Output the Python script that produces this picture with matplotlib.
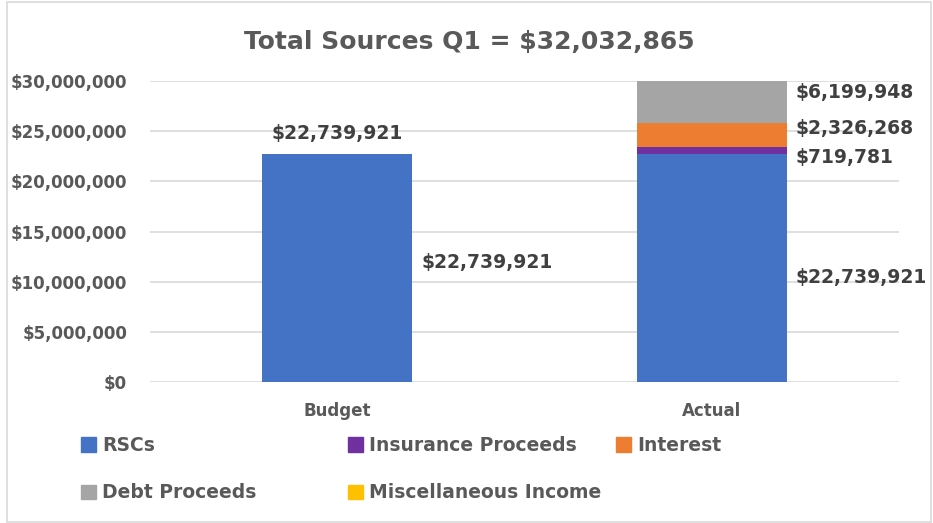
import numpy as np
import matplotlib.pyplot as plt
from matplotlib.patches import Rectangle, Patch

# ---- Data ----
categories = ['Budget', 'Actual']
series_names = ['RSCs', 'Insurance Proceeds', 'Interest', 'Debt Proceeds', 'Miscellaneous Income']
rscs = [22739921, 22739921]
insurance = [0, 719781]
interest = [0, 2326268]
debt = [0, 6199948]
misc = [0, 46947]
title = 'Total Sources Q1 = $32,032,865'
yticks = [0, 5e6, 10e6, 15e6, 20e6, 25e6, 30e6]

colors = ['#4472C4', '#7030A0', '#ED7D31', '#A5A5A5', '#FFC000']
text_col = '#595959'
label_col = '#404040'

# ---- Plotting ----
fig = plt.figure(figsize=(9.33, 5.23), dpi=100)
ax = fig.add_axes([150/933, 1 - 382/523, 749/933, 301/523])

x = np.arange(len(categories))
width = 0.4
stack = [rscs, insurance, interest, debt, misc]
bottom = np.zeros(len(categories))
bars = []
for vals, c, name in zip(stack, colors, series_names):
    b = ax.bar(x, vals, width, bottom=bottom, color=c, label=name, zorder=2)
    bars.append((b, np.array(vals, dtype=float), bottom.copy()))
    bottom += np.array(vals, dtype=float)

ax.set_xlim(-0.5, 1.5)
ax.set_ylim(0, 30e6)
ax.set_yticks(yticks)
ax.yaxis.set_major_formatter(plt.FuncFormatter(lambda v, p: f'${v:,.0f}'))
ax.set_xticks(x)
ax.set_xticklabels(categories)
ax.grid(axis='y', color='#D9D9D9', lw=1.2, zorder=0)
for s in ax.spines.values():
    s.set_visible(False)
ax.tick_params(length=0, colors=text_col, labelsize=12)
ax.tick_params(axis='y', pad=16.5)
ax.tick_params(axis='x', pad=14.5)
for lab in ax.get_xticklabels() + ax.get_yticklabels():
    lab.set_fontweight('bold')

# data labels to the right of segments (vertical nudges in points)
nudges = {(0, 0): 4, (0, 1): -7, (1, 1): -5, (2, 1): 5, (3, 1): 0}
for si, (b, vals, bot) in enumerate(bars):
    for ci in range(len(categories)):
        if (si, ci) not in nudges:
            continue
        mid = bot[ci] + vals[ci] / 2
        ax.annotate(f'${vals[ci]:,.0f}', xy=(x[ci] + width / 2, mid),
                    xytext=(6.5, nudges[(si, ci)]), textcoords='offset points',
                    ha='left', va='center', fontsize=13.5, fontweight='bold',
                    color=label_col, annotation_clip=False)

# total label above budget bar
ax.annotate(f'${rscs[0]:,.0f}', xy=(x[0], rscs[0]), xytext=(0, 15),
            textcoords='offset points', ha='center', va='center',
            fontsize=13.5, fontweight='bold', color=label_col)

fig.suptitle(title, x=469/933, y=1 - 42/523, va='center', fontsize=18,
             fontweight='bold', color=text_col)

# legend laid out in three equal columns, row-major like Excel
handles = [Patch(color=c) for c in colors]
cols = [([0, 3], 81), ([1, 4], 348), ([2], 616)]
for idx, xpix in cols:
    leg = fig.legend([handles[i] for i in idx], [series_names[i] for i in idx],
                     loc='upper left', bbox_to_anchor=(xpix/933, 1 - 436/523),
                     frameon=False, handlelength=0.8, handleheight=0.8,
                     handletextpad=0.32, labelspacing=1.52, borderpad=0,
                     borderaxespad=0, prop={'weight': 'bold', 'size': 13.5})
    for t in leg.get_texts():
        t.set_color(text_col)

fig.patches.append(Rectangle((7/933, 1/523), 924/933, 520/523, transform=fig.transFigure,
                             fill=False, edgecolor='#D9D9D9', lw=1.2))

plt.savefig('out.png', dpi=100)
